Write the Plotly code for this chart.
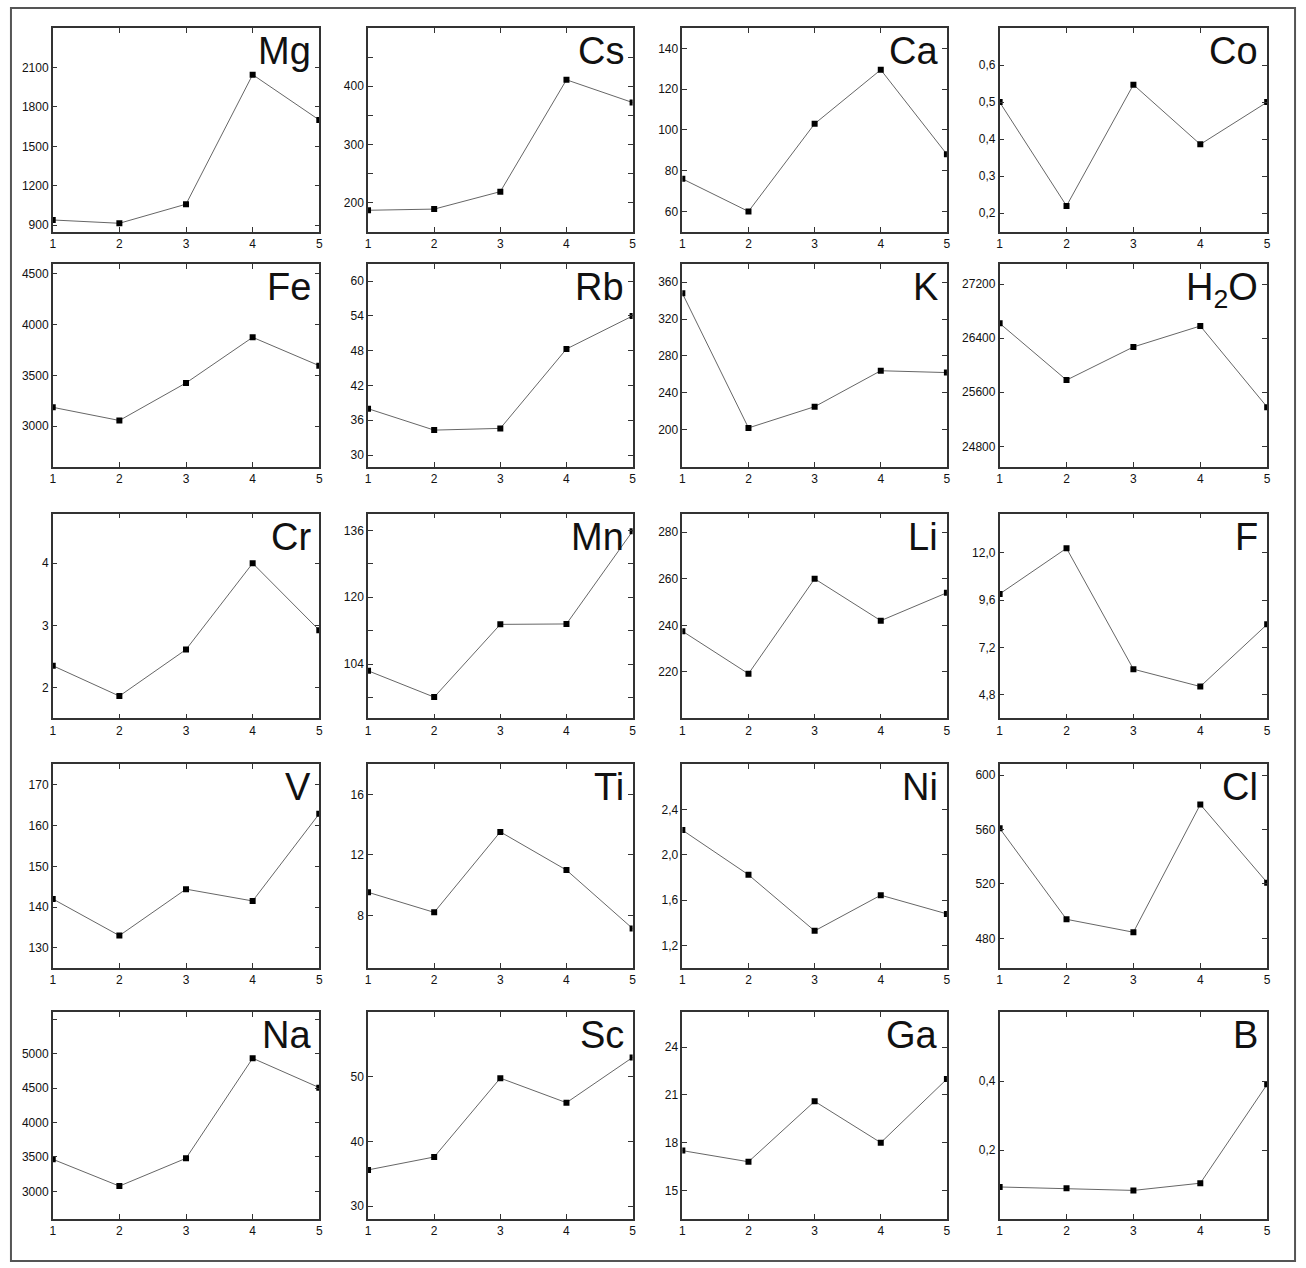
import plotly.graph_objects as go

W, H = 1306, 1268
x_vals = [1, 2, 3, 4, 5]

names = ["Mg", "Cs", "Ca", "Co",
         "Fe", "Rb", "K", "H<sub>2</sub>O",
         "Cr", "Mn", "Li", "F",
         "V", "Ti", "Ni", "Cl",
         "Na", "Sc", "Ga", "B"]

Mg = [940, 915, 1060, 2045, 1700]
Cs = [187, 189, 219, 411, 372]
Ca = [76, 60, 103, 129.5, 88]
Co = [0.50, 0.22, 0.547, 0.386, 0.50]
Fe = [3185, 3055, 3425, 3875, 3595]
Rb = [38.0, 34.3, 34.6, 48.3, 54.0]
K = [348, 202, 225, 264, 262]
H2O = [26620, 25780, 26270, 26580, 25380]
Cr = [2.35, 1.86, 2.61, 4.0, 2.92]
Mn = [102.4, 96.1, 113.5, 113.6, 135.8]
Li = [237.5, 219.2, 260, 242, 254]
F = [9.92, 12.24, 6.10, 5.22, 8.38]
V = [142.0, 133.0, 144.4, 141.5, 162.9]
Ti = [9.53, 8.2, 13.53, 11.0, 7.13]
Ni = [2.22, 1.825, 1.33, 1.645, 1.48]
Cl = [561, 494, 484.5, 578.5, 521]
Na = [3467, 3078, 3481, 4932, 4506]
Sc = [35.6, 37.6, 49.8, 46.0, 53.0]
Ga = [17.5, 16.8, 20.6, 18.0, 22.0]
B = [0.093, 0.089, 0.083, 0.104, 0.391]

series = [Mg, Cs, Ca, Co, Fe, Rb, K, H2O, Cr, Mn, Li, F, V, Ti, Ni, Cl, Na, Sc, Ga, B]

y_ranges = [
    [850, 2400], [150, 500], [50, 150], [0.15, 0.70],
    [2600, 4600], [28, 63], [160, 380], [24500, 27500],
    [1.5, 4.8], [91, 140], [200, 288], [3.6, 14.0],
    [125, 175], [4.5, 18], [1.0, 2.8], [458, 608],
    [2600, 5600], [28, 60], [13.2, 26.2], [0.0, 0.6],
]

y_tickvals = [
    [900, 1200, 1500, 1800, 2100],
    [200, 300, 400],
    [60, 80, 100, 120, 140],
    [0.2, 0.3, 0.4, 0.5, 0.6],
    [3000, 3500, 4000, 4500],
    [30, 36, 42, 48, 54, 60],
    [200, 240, 280, 320, 360],
    [24800, 25600, 26400, 27200],
    [2, 3, 4],
    [104, 120, 136],
    [220, 240, 260, 280],
    [4.8, 7.2, 9.6, 12.0],
    [130, 140, 150, 160, 170],
    [8, 12, 16],
    [1.2, 1.6, 2.0, 2.4],
    [480, 520, 560, 600],
    [3000, 3500, 4000, 4500, 5000],
    [30, 40, 50],
    [15, 18, 21, 24],
    [0.2, 0.4],
]

y_ticktext = [
    ["900", "1200", "1500", "1800", "2100"],
    ["200", "300", "400"],
    ["60", "80", "100", "120", "140"],
    ["0,2", "0,3", "0,4", "0,5", "0,6"],
    ["3000", "3500", "4000", "4500"],
    ["30", "36", "42", "48", "54", "60"],
    ["200", "240", "280", "320", "360"],
    ["24800", "25600", "26400", "27200"],
    ["2", "3", "4"],
    ["104", "120", "136"],
    ["220", "240", "260", "280"],
    ["4,8", "7,2", "9,6", "12,0"],
    ["130", "140", "150", "160", "170"],
    ["8", "12", "16"],
    ["1,2", "1,6", "2,0", "2,4"],
    ["480", "520", "560", "600"],
    ["3000", "3500", "4000", "4500", "5000"],
    ["30", "40", "50"],
    ["15", "18", "21", "24"],
    ["0,2", "0,4"],
]

# unlabeled (minor) y ticks, per panel
y_minor = {1: [250, 350, 450], 9: [96, 112, 128], 16: [5500]}

x_ticktext = ["1", "2", "3", "4", "5"]

# panel pixel boxes
cols_px = [(50, 318), (367, 633), (683, 949), (1002, 1271)]
rows_px = [(28, 232), (264, 467), (514, 719), (765, 969), (1013, 1220)]

fig = go.Figure()
layout = dict(
    width=W, height=H,
    margin=dict(l=0, r=0, t=0, b=0),
    paper_bgcolor="white", plot_bgcolor="white",
    showlegend=False,
    font=dict(family="Liberation Sans, Arial, sans-serif", size=12, color="#111"),
    annotations=[], shapes=[],
)

axis_common = dict(
    showgrid=False, zeroline=False,
    showline=True, linecolor="#333", linewidth=1.5, mirror="ticks",
    ticks="inside", ticklen=5, tickwidth=1, tickcolor="#333",
    tickfont=dict(size=12, color="#111"),
    fixedrange=True,
)

for i, (nm, ys) in enumerate(zip(names, series)):
    r, c = divmod(i, 4)
    x0, x1 = cols_px[c]
    y0, y1 = rows_px[r]
    idx = "" if i == 0 else str(i + 1)
    xa, ya = "x" + idx, "y" + idx
    fig.add_trace(go.Scatter(
        x=x_vals, y=ys, mode="lines+markers",
        line=dict(color="#666", width=1),
        marker=dict(symbol="square", size=6, color="black"),
        xaxis=xa, yaxis=ya, cliponaxis=True, hoverinfo="skip",
    ))
    layout["xaxis" + idx] = dict(
        axis_common, domain=[x0 / W, x1 / W], anchor=ya,
        range=[1, 5], tickvals=x_vals, ticktext=x_ticktext,
    )
    yax = dict(
        axis_common, domain=[1 - y1 / H, 1 - y0 / H], anchor=xa,
        range=y_ranges[i], tickvals=y_tickvals[i], ticktext=y_ticktext[i],
    )
    if i in y_minor:
        yax["minor"] = dict(tickvals=y_minor[i], ticks="inside", ticklen=5,
                            tickwidth=1, tickcolor="#333", showgrid=False)
    layout["yaxis" + idx] = yax
    layout["annotations"].append(dict(
        text=nm, xref=xa + " domain", yref=ya + " domain",
        x=0.975, y=1.0, xanchor="right", yanchor="top",
        showarrow=False, font=dict(size=38, color="#111"),
    ))

layout["shapes"].append(dict(
    type="rect", xref="paper", yref="paper",
    x0=8 / W, x1=1299 / W, y0=1 - 1262 / H, y1=1 - 8 / H,
    line=dict(color="#555", width=2), fillcolor="rgba(0,0,0,0)",
))

fig.update_layout(**layout)
fig.write_html("out.html")
